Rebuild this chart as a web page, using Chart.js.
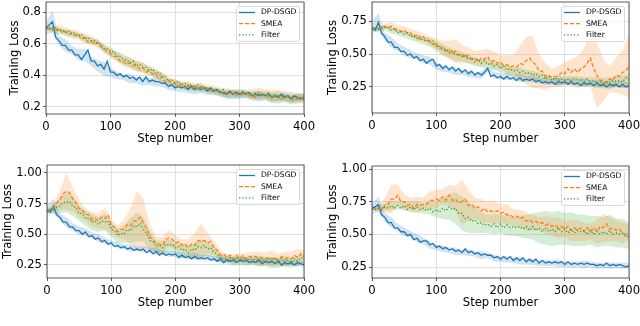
<!DOCTYPE html>
<html>
<head>
<meta charset="utf-8">
<script src="https://cdn.jsdelivr.net/npm/chart.js@4.4.0/dist/chart.umd.min.js"></script>
<style>
  html, body { margin: 0; padding: 0; background: #fff; }
  #page { position: relative; width: 640px; height: 326px; overflow: hidden; background: #fff; }
  .panel { position: absolute; }
  canvas { display: block; }
</style>
</head>
<body>
<div id="page">
  <div class="panel" style="left:0px;top:0px"><canvas id="lossA" width="320" height="150"></canvas></div>
  <div class="panel" style="left:320px;top:0px"><canvas id="lossB" width="320" height="150"></canvas></div>
  <div class="panel" style="left:0px;top:150px"><canvas id="lossC" width="320" height="163"></canvas></div>
  <div class="panel" style="left:320px;top:150px"><canvas id="lossD" width="320" height="163"></canvas></div>
</div>
<script>
// step spacing of the mean curves and of the spread (shaded band) values
const STEP = 5;
const SPREAD_STEP = 10;

const seriesNames = ['DP-DSGD', 'SMEA', 'Filter'];
const xTicks = [0, 100, 200, 300, 400];
const yTicksA = [0.2, 0.4, 0.6, 0.8];
const yTicksB = [0.25, 0.50, 0.75];
const yTicksC = [0.25, 0.50, 0.75, 1.00];
const yTicksD = [0.25, 0.50, 0.75, 1.00];

// ---- top left ----
const dpdsgdA = [
  0.70,0.72,0.74,0.64,0.62,0.59,0.59,0.56,0.56,0.53,
  0.53,0.50,0.53,0.56,0.49,0.49,0.46,0.47,0.44,0.49,
  0.42,0.42,0.40,0.41,0.39,0.40,0.38,0.39,0.37,0.39,
  0.36,0.39,0.36,0.37,0.36,0.36,0.35,0.35,0.33,0.34,
  0.32,0.33,0.32,0.33,0.31,0.33,0.31,0.32,0.31,0.32,
  0.30,0.32,0.30,0.31,0.29,0.29,0.28,0.30,0.28,0.29,
  0.28,0.29,0.28,0.29,0.27,0.28,0.27,0.28,0.27,0.28,
  0.26,0.27,0.26,0.28,0.26,0.27,0.25,0.27,0.26,0.25,
  0.26];
const smeaA = [
  0.70,0.69,0.70,0.68,0.70,0.67,0.68,0.66,0.67,0.65,
  0.66,0.63,0.64,0.61,0.62,0.60,0.61,0.58,0.57,0.55,
  0.54,0.52,0.52,0.49,0.49,0.47,0.48,0.46,0.46,0.44,
  0.45,0.42,0.43,0.41,0.41,0.38,0.39,0.36,0.37,0.35,
  0.35,0.33,0.34,0.32,0.34,0.32,0.33,0.31,0.33,0.31,
  0.32,0.30,0.31,0.30,0.30,0.28,0.29,0.28,0.29,0.27,
  0.29,0.27,0.29,0.27,0.28,0.26,0.29,0.27,0.28,0.26,
  0.27,0.26,0.27,0.25,0.27,0.26,0.26,0.24,0.26,0.25,
  0.25];
const filterA = [
  0.70,0.70,0.69,0.70,0.68,0.69,0.67,0.68,0.66,0.67,
  0.65,0.66,0.63,0.64,0.62,0.62,0.60,0.60,0.57,0.57,
  0.55,0.55,0.52,0.52,0.50,0.50,0.48,0.49,0.46,0.47,
  0.45,0.45,0.43,0.44,0.41,0.42,0.39,0.39,0.36,0.37,
  0.35,0.36,0.34,0.35,0.33,0.34,0.32,0.34,0.32,0.33,
  0.31,0.32,0.30,0.31,0.29,0.31,0.28,0.29,0.28,0.30,
  0.28,0.30,0.28,0.29,0.27,0.29,0.27,0.28,0.27,0.29,
  0.26,0.28,0.26,0.27,0.26,0.27,0.25,0.27,0.25,0.26,
  0.26];
const dpdsgdSpreadA = [
  0.04,0.07,0.03,0.04,0.025,0.035,0.04,0.03,0.035,0.045,
  0.03,0.025,0.02,0.03,0.02,0.025,0.02,0.03,0.02,0.025,
  0.02,0.025,0.02,0.03,0.02,0.025,0.02,0.025,0.02,0.03,
  0.02,0.025,0.02,0.03,0.02,0.025,0.02,0.025,0.02,0.025,
  0.02];
const smeaSpreadA = [
  0.01,0.015,0.02,0.025,0.02,0.025,0.02,0.03,0.02,0.025,
  0.025,0.03,0.03,0.035,0.03,0.035,0.025,0.03,0.025,0.02,
  0.025,0.02,0.025,0.02,0.025,0.02,0.025,0.02,0.03,0.02,
  0.025,0.02,0.03,0.035,0.03,0.04,0.035,0.03,0.035,0.03,
  0.03];
const filterSpreadA = [
  0.01,0.015,0.02,0.02,0.025,0.02,0.025,0.02,0.025,0.025,
  0.03,0.03,0.035,0.03,0.035,0.03,0.03,0.025,0.03,0.02,
  0.025,0.02,0.025,0.02,0.025,0.02,0.025,0.02,0.03,0.025,
  0.03,0.02,0.03,0.035,0.03,0.035,0.04,0.03,0.035,0.03,
  0.03];

// ---- top right ----
const dpdsgdB = [
  0.70,0.68,0.74,0.66,0.63,0.59,0.59,0.55,0.55,0.52,
  0.52,0.49,0.50,0.47,0.48,0.45,0.46,0.43,0.45,0.46,
  0.41,0.42,0.39,0.41,0.38,0.40,0.37,0.39,0.36,0.38,
  0.35,0.37,0.34,0.36,0.34,0.36,0.39,0.33,0.34,0.32,
  0.33,0.31,0.33,0.31,0.32,0.30,0.32,0.30,0.31,0.30,
  0.31,0.29,0.30,0.28,0.29,0.28,0.29,0.27,0.29,0.28,
  0.29,0.27,0.29,0.27,0.28,0.26,0.28,0.27,0.28,0.26,
  0.28,0.26,0.27,0.25,0.27,0.26,0.27,0.25,0.27,0.25,
  0.26];
const smeaB = [
  0.69,0.70,0.69,0.70,0.71,0.70,0.71,0.69,0.69,0.67,
  0.68,0.66,0.66,0.63,0.64,0.61,0.63,0.60,0.60,0.57,
  0.58,0.54,0.55,0.52,0.53,0.50,0.52,0.49,0.50,0.47,
  0.49,0.46,0.47,0.44,0.47,0.46,0.48,0.44,0.45,0.43,
  0.44,0.41,0.42,0.40,0.41,0.40,0.43,0.42,0.45,0.47,
  0.44,0.42,0.37,0.37,0.33,0.34,0.32,0.33,0.33,0.36,
  0.35,0.39,0.36,0.39,0.36,0.39,0.40,0.43,0.47,0.39,
  0.34,0.30,0.30,0.28,0.31,0.30,0.34,0.33,0.36,0.37,
  0.41];
const filterB = [
  0.69,0.70,0.69,0.70,0.70,0.70,0.68,0.69,0.66,0.67,
  0.65,0.66,0.63,0.64,0.62,0.63,0.60,0.61,0.59,0.60,
  0.56,0.56,0.53,0.54,0.51,0.52,0.49,0.50,0.48,0.49,
  0.46,0.47,0.44,0.46,0.43,0.45,0.42,0.43,0.41,0.42,
  0.39,0.41,0.38,0.39,0.37,0.38,0.36,0.37,0.35,0.36,
  0.34,0.35,0.33,0.34,0.31,0.33,0.30,0.32,0.30,0.31,
  0.30,0.31,0.30,0.32,0.30,0.31,0.29,0.31,0.29,0.30,
  0.28,0.29,0.28,0.29,0.28,0.30,0.29,0.30,0.29,0.32,
  0.31];
const dpdsgdSpreadB = [
  0.04,0.07,0.03,0.04,0.03,0.035,0.03,0.025,0.03,0.03,
  0.03,0.025,0.02,0.03,0.02,0.025,0.02,0.03,0.02,0.025,
  0.02,0.025,0.02,0.03,0.02,0.025,0.02,0.025,0.02,0.03,
  0.02,0.025,0.02,0.03,0.02,0.025,0.02,0.025,0.02,0.025,
  0.02];
const smeaSpreadB = [
  0.01,0.02,0.02,0.03,0.03,0.03,0.03,0.035,0.03,0.035,
  0.04,0.05,0.07,0.09,0.07,0.06,0.05,0.06,0.06,0.07,
  0.05,0.07,0.08,0.13,0.18,0.20,0.13,0.10,0.07,0.08,
  0.09,0.10,0.12,0.14,0.22,0.25,0.16,0.10,0.13,0.17,
  0.24];
const filterSpreadB = [
  0.01,0.015,0.02,0.025,0.02,0.025,0.025,0.03,0.03,0.035,
  0.035,0.045,0.04,0.045,0.035,0.03,0.035,0.03,0.035,0.03,
  0.03,0.035,0.03,0.035,0.03,0.035,0.03,0.035,0.03,0.035,
  0.03,0.035,0.03,0.035,0.035,0.04,0.04,0.045,0.04,0.045,
  0.04];

// ---- bottom left ----
const dpdsgdC = [
  0.70,0.68,0.73,0.66,0.64,0.60,0.60,0.56,0.56,0.53,
  0.53,0.50,0.52,0.48,0.49,0.46,0.47,0.44,0.45,0.42,
  0.43,0.40,0.41,0.39,0.40,0.38,0.39,0.37,0.38,0.37,
  0.38,0.35,0.37,0.34,0.36,0.33,0.35,0.33,0.34,0.33,
  0.34,0.31,0.33,0.31,0.32,0.30,0.32,0.30,0.31,0.30,
  0.31,0.29,0.30,0.28,0.30,0.27,0.29,0.28,0.29,0.27,
  0.29,0.28,0.29,0.27,0.28,0.27,0.29,0.26,0.28,0.27,
  0.28,0.26,0.28,0.25,0.27,0.26,0.27,0.25,0.27,0.26,
  0.25];
const smeaC = [
  0.69,0.71,0.72,0.76,0.78,0.83,0.85,0.84,0.79,0.76,
  0.71,0.70,0.66,0.66,0.62,0.63,0.61,0.64,0.63,0.66,
  0.57,0.56,0.52,0.54,0.54,0.58,0.57,0.61,0.61,0.64,
  0.59,0.55,0.48,0.46,0.42,0.42,0.41,0.46,0.47,0.46,
  0.43,0.44,0.41,0.42,0.39,0.42,0.41,0.45,0.44,0.45,
  0.43,0.44,0.39,0.37,0.33,0.34,0.31,0.33,0.30,0.33,
  0.30,0.33,0.30,0.32,0.31,0.32,0.30,0.31,0.30,0.31,
  0.30,0.31,0.29,0.32,0.30,0.31,0.30,0.33,0.31,0.34,
  0.32];
const filterC = [
  0.69,0.70,0.70,0.72,0.73,0.76,0.76,0.77,0.73,0.72,
  0.67,0.67,0.63,0.63,0.60,0.61,0.58,0.61,0.60,0.61,
  0.54,0.53,0.49,0.51,0.50,0.54,0.53,0.57,0.56,0.59,
  0.54,0.51,0.45,0.44,0.40,0.41,0.39,0.42,0.41,0.42,
  0.39,0.40,0.37,0.38,0.35,0.38,0.37,0.40,0.39,0.41,
  0.38,0.39,0.35,0.34,0.30,0.31,0.29,0.31,0.28,0.31,
  0.28,0.31,0.28,0.30,0.29,0.30,0.28,0.29,0.28,0.30,
  0.27,0.30,0.27,0.30,0.28,0.29,0.27,0.30,0.28,0.31,
  0.30];
const dpdsgdSpreadC = [
  0.04,0.06,0.03,0.04,0.03,0.035,0.03,0.025,0.03,0.025,
  0.02,0.025,0.02,0.03,0.02,0.025,0.02,0.03,0.02,0.025,
  0.02,0.025,0.02,0.03,0.02,0.025,0.02,0.025,0.02,0.03,
  0.02,0.025,0.02,0.03,0.02,0.025,0.02,0.025,0.02,0.025,
  0.02];
const smeaSpreadC = [
  0.01,0.03,0.08,0.15,0.10,0.07,0.05,0.06,0.06,0.09,
  0.06,0.05,0.08,0.15,0.24,0.20,0.10,0.06,0.07,0.07,
  0.06,0.05,0.07,0.10,0.15,0.08,0.06,0.04,0.03,0.04,
  0.04,0.05,0.05,0.06,0.05,0.07,0.05,0.06,0.06,0.07,
  0.05];
const filterSpreadC = [
  0.01,0.03,0.06,0.08,0.08,0.06,0.06,0.07,0.06,0.07,
  0.06,0.06,0.07,0.10,0.12,0.10,0.08,0.05,0.06,0.05,
  0.05,0.06,0.05,0.06,0.07,0.06,0.05,0.04,0.03,0.035,
  0.03,0.035,0.04,0.045,0.04,0.045,0.04,0.045,0.04,0.045,
  0.04];

// ---- bottom right ----
const dpdsgdD = [
  0.70,0.71,0.73,0.65,0.63,0.59,0.59,0.55,0.55,0.52,
  0.52,0.49,0.50,0.46,0.47,0.44,0.45,0.45,0.42,0.43,
  0.40,0.41,0.39,0.40,0.38,0.39,0.37,0.38,0.36,0.39,
  0.36,0.37,0.35,0.36,0.34,0.35,0.34,0.34,0.32,0.33,
  0.31,0.33,0.31,0.33,0.30,0.32,0.30,0.32,0.29,0.31,
  0.29,0.31,0.28,0.30,0.28,0.29,0.28,0.29,0.28,0.29,
  0.27,0.29,0.27,0.28,0.27,0.28,0.27,0.28,0.27,0.27,
  0.26,0.27,0.26,0.28,0.26,0.27,0.26,0.27,0.26,0.25,
  0.26];
const smeaD = [
  0.70,0.69,0.70,0.69,0.72,0.73,0.77,0.77,0.80,0.75,
  0.75,0.72,0.73,0.70,0.73,0.72,0.73,0.73,0.76,0.76,
  0.77,0.76,0.79,0.76,0.80,0.76,0.77,0.74,0.75,0.77,
  0.72,0.73,0.70,0.71,0.68,0.70,0.67,0.68,0.67,0.68,
  0.66,0.67,0.65,0.65,0.63,0.64,0.62,0.63,0.60,0.61,
  0.59,0.60,0.58,0.59,0.57,0.58,0.56,0.57,0.55,0.56,
  0.54,0.56,0.53,0.55,0.53,0.55,0.52,0.55,0.52,0.55,
  0.52,0.56,0.55,0.58,0.54,0.55,0.53,0.54,0.51,0.50,
  0.52];
const filterD = [
  0.70,0.69,0.70,0.69,0.71,0.70,0.72,0.70,0.72,0.70,
  0.72,0.69,0.71,0.69,0.71,0.69,0.70,0.68,0.70,0.67,
  0.69,0.67,0.70,0.68,0.71,0.69,0.70,0.66,0.66,0.62,
  0.63,0.60,0.61,0.58,0.59,0.57,0.58,0.56,0.58,0.55,
  0.58,0.55,0.57,0.55,0.56,0.55,0.56,0.54,0.56,0.53,
  0.56,0.53,0.55,0.52,0.55,0.52,0.54,0.52,0.55,0.52,
  0.54,0.51,0.54,0.51,0.53,0.52,0.53,0.50,0.53,0.50,
  0.52,0.50,0.52,0.50,0.53,0.50,0.51,0.50,0.51,0.48,
  0.49];
const dpdsgdSpreadD = [
  0.04,0.06,0.03,0.04,0.03,0.035,0.025,0.03,0.025,0.03,
  0.02,0.025,0.02,0.03,0.02,0.025,0.02,0.03,0.02,0.025,
  0.02,0.025,0.02,0.03,0.02,0.025,0.02,0.025,0.02,0.03,
  0.02,0.025,0.02,0.03,0.02,0.025,0.02,0.025,0.02,0.025,
  0.02];
const smeaSpreadD = [
  0.01,0.02,0.06,0.11,0.08,0.06,0.05,0.06,0.05,0.07,
  0.07,0.06,0.08,0.10,0.17,0.12,0.08,0.09,0.08,0.09,
  0.07,0.08,0.06,0.07,0.07,0.06,0.05,0.07,0.07,0.08,
  0.06,0.08,0.08,0.07,0.06,0.09,0.11,0.09,0.08,0.08,
  0.06];
const filterSpreadD = [
  0.01,0.02,0.03,0.035,0.03,0.035,0.04,0.045,0.04,0.05,
  0.06,0.08,0.10,0.12,0.13,0.12,0.10,0.08,0.07,0.08,
  0.07,0.08,0.07,0.08,0.09,0.10,0.12,0.13,0.13,0.13,
  0.12,0.13,0.12,0.12,0.11,0.12,0.11,0.12,0.11,0.11,
  0.10];

// ---- styling (matplotlib look) ----
const lineColors = ['#1f77b4', '#ff7f0e', '#2ca02c'];
const bandColors = ['rgba(31,119,180,0.2)', 'rgba(255,127,14,0.2)', 'rgba(44,160,44,0.2)'];
const lineDashes = [[], [4, 2], [1.3, 2]];
const FONT = '"DejaVu Sans", "Liberation Sans", sans-serif';

Chart.defaults.font.family = FONT;
Chart.defaults.color = '#000';

const frame = {
  id: 'frame',
  afterDatasetsDraw(chart) {
    const { ctx, chartArea: a } = chart;
    ctx.save();
    ctx.strokeStyle = '#333';
    ctx.lineWidth = 0.8;
    ctx.strokeRect(a.left, a.top, a.right - a.left, a.bottom - a.top);
    ctx.restore();
  }
};

const insetLegend = {
  id: 'insetLegend',
  afterDraw(chart) {
    const { ctx, chartArea: a } = chart;
    const w = 63, h = 35;
    const x0 = a.right - 5 - w, y0 = a.top + 4;
    ctx.save();
    ctx.fillStyle = 'rgba(255,255,255,0.8)';
    ctx.strokeStyle = '#d0d0d0';
    ctx.lineWidth = 0.8;
    ctx.beginPath();
    ctx.roundRect(x0 + 0.5, y0 + 0.5, w, h, 2);
    ctx.fill();
    ctx.stroke();
    ctx.font = '7.6px ' + FONT;
    ctx.textBaseline = 'middle';
    seriesNames.forEach((name, k) => {
      const y = y0 + 6.5 + k * 11.2;
      ctx.strokeStyle = lineColors[k];
      ctx.lineWidth = 1.3;
      ctx.setLineDash(lineDashes[k]);
      ctx.beginPath();
      ctx.moveTo(x0 + 3, y);
      ctx.lineTo(x0 + 19, y);
      ctx.stroke();
      ctx.setLineDash([]);
      ctx.fillStyle = '#000';
      ctx.fillText(name, x0 + 25, y);
    });
    ctx.restore();
  }
};

function linePoints(mean) {
  return mean.map((v, i) => ({ x: i * STEP, y: v }));
}
function bandPoints(mean, spread, sign) {
  const ratio = SPREAD_STEP / STEP;
  return spread.map((s, i) => ({ x: i * SPREAD_STEP, y: mean[i * ratio] + sign * s }));
}

function makeChart(p) {
  const datasets = [];
  p.series.forEach((mean, k) => {
    datasets.push({
      data: bandPoints(mean, p.spreads[k], 1), order: 10 + k,
      borderWidth: 0, pointRadius: 0, fill: '+1', backgroundColor: bandColors[k]
    });
    datasets.push({
      data: bandPoints(mean, p.spreads[k], -1), order: 10 + k,
      borderWidth: 0, pointRadius: 0, fill: false
    });
  });
  p.series.forEach((mean, k) => {
    datasets.push({
      label: seriesNames[k], data: linePoints(mean), order: 2 - k,
      borderColor: lineColors[k], borderWidth: 1.3, borderDash: lineDashes[k],
      pointRadius: 0, tension: 0, fill: false
    });
  });

  new Chart(document.getElementById(p.id), {
    type: 'line',
    data: { datasets },
    plugins: [frame, insetLegend],
    options: {
      responsive: false,
      animation: false,
      events: [],
      layout: { padding: p.pad },
      plugins: { legend: { display: false }, tooltip: { enabled: false } },
      scales: {
        x: {
          type: 'linear', min: 0, max: 400,
          afterBuildTicks: s => { s.ticks = xTicks.map(v => ({ value: v })); },
          afterFit: s => { s.height = p.xAxisHeight; s.paddingLeft = 0; s.paddingRight = 0; },
          ticks: { font: { size: 11.6 }, padding: 3, maxRotation: 0 },
          grid: { color: '#d8d8d8', lineWidth: 0.8, tickLength: 3, tickColor: '#333' },
          border: { display: false },
          title: { display: true, text: 'Step number', font: { size: 11.6 }, padding: 0 }
        },
        y: {
          type: 'linear', min: p.yMin, max: p.yMax,
          afterBuildTicks: s => { s.ticks = p.yTicks.map(v => ({ value: v })); },
          afterFit: s => { s.width = p.yAxisWidth; s.paddingTop = 0; s.paddingBottom = 0; },
          ticks: { font: { size: 11.6 }, padding: 2, callback: v => v.toFixed(p.digits) },
          grid: { color: '#d8d8d8', lineWidth: 0.8, tickLength: 3, tickColor: '#333' },
          border: { display: false },
          title: { display: true, text: 'Training Loss', font: { size: 11.6 }, padding: { top: p.yTitlePad, bottom: 0 } }
        }
      }
    }
  });
}

const panels = [
  { id: 'lossA', series: [dpdsgdA, smeaA, filterA], spreads: [dpdsgdSpreadA, smeaSpreadA, filterSpreadA],
    yMin: 0.155, yMax: 0.865, yTicks: yTicksA, digits: 1,
    yAxisWidth: 46, yTitlePad: 8.5, xAxisHeight: 32, pad: { left: 0, right: 16, top: 2, bottom: 4 } },
  { id: 'lossB', series: [dpdsgdB, smeaB, filterB], spreads: [dpdsgdSpreadB, smeaSpreadB, filterSpreadB],
    yMin: 0.053, yMax: 0.894, yTicks: yTicksB, digits: 2,
    yAxisWidth: 52, yTitlePad: 6, xAxisHeight: 33, pad: { left: 0, right: 11, top: 2, bottom: 4 } },
  { id: 'lossC', series: [dpdsgdC, smeaC, filterC], spreads: [dpdsgdSpreadC, smeaSpreadC, filterSpreadC],
    yMin: 0.144, yMax: 1.065, yTicks: yTicksC, digits: 2,
    yAxisWidth: 47, yTitlePad: 1, xAxisHeight: 32, pad: { left: 0, right: 16, top: 15, bottom: 3 } },
  { id: 'lossD', series: [dpdsgdD, smeaD, filterD], spreads: [dpdsgdSpreadD, smeaSpreadD, filterSpreadD],
    yMin: 0.166, yMax: 1.023, yTicks: yTicksD, digits: 2,
    yAxisWidth: 52, yTitlePad: 6, xAxisHeight: 32, pad: { left: 0, right: 11, top: 16, bottom: 3 } }
];

panels.forEach(makeChart);
</script>
</body>
</html>
